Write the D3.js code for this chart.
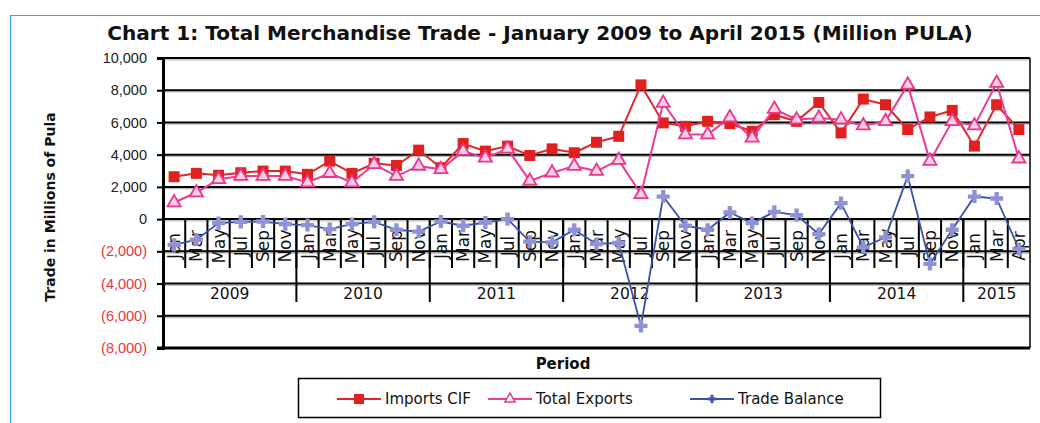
<!DOCTYPE html>
<html>
<head>
<meta charset="utf-8">
<script src="https://cdn.jsdelivr.net/npm/d3@7"></script>
<style>
  body { margin: 0; background: #fff; }
  svg { display: block; font-family: "Century Gothic", "DejaVu Sans", sans-serif; }
</style>
</head>
<body>
<svg width="1040" height="423"></svg>
<script>
// categories: bimonthly periods, Jan 2009 to Apr 2015
const periodMonths = [
  "Jan","Mar","May","Jul","Sep","Nov",
  "Jan","Mar","May","Jul","Sep","Nov",
  "Jan","Mar","May","Jul","Sep","Nov",
  "Jan","Mar","May","Jul","Sep","Nov",
  "Jan","Mar","May","Jul","Sep","Nov",
  "Jan","Mar","May","Jul","Sep","Nov",
  "Jan","Mar","Apr"
];
const yearLabels = ["2009","2010","2011","2012","2013","2014","2015"];
const yearCounts = [6, 6, 6, 6, 6, 6, 3];

const importsCIF = [
  2630, 2840, 2720, 2880, 2980, 2980,
  2780, 3600, 2840, 3460, 3330, 4280,
  3190, 4690, 4220, 4530, 3950, 4360,
  4120, 4770, 5140, 8330, 5970, 5760,
  6070, 5930, 5450, 6480, 6070, 7240,
  5350, 7450, 7100, 5560, 6340, 6750,
  4530, 7100, 5560
];
const totalExports = [
  1030, 1650, 2470, 2670, 2670, 2670,
  2270, 2850, 2270, 3400, 2670, 3300,
  3090, 4220, 3800, 4360, 2370, 2880,
  3290, 2980, 3660, 1540, 7200, 5250,
  5250, 6300, 5040, 6830, 6170, 6280,
  6170, 5800, 6070, 8330, 3600, 6070,
  5800, 8440, 3750
];
const tradeBalance = [
  -1600, -1280, -250, -170, -150, -310,
  -370, -620, -310, -170, -660, -780,
  -150, -410, -210, 0, -1400, -1440,
  -660, -1540, -1480, -6630, 1400, -410,
  -660, 410, -250, 450, 250, -930,
  990, -1750, -1130, 2670, -2780, -660,
  1400, 1280, -1850
];
const yTicks = [-8000, -6000, -4000, -2000, 0, 2000, 4000, 6000, 8000, 10000];

const svg = d3.select("svg");
const plotLeft = 163, plotRight = 1030, plotTop = 58, plotBottom = 348;

// outer chart border (only left and top are visible)
svg.append("path")
  .attr("d", `M10.5,423 V15.5 H1040`)
  .attr("fill", "none")
  .attr("stroke", "#3ba9e0")
  .attr("stroke-width", 1.2);

const x = d3.scaleBand()
  .domain(d3.range(periodMonths.length))
  .range([plotLeft, plotRight])
  .padding(0);

const y = d3.scaleLinear()
  .domain([-8000, 10000])
  .range([plotBottom, plotTop]);

const fmt = d3.format(",");
const tickLabel = (v) => v < 0 ? "(" + fmt(-v) + ")" : fmt(v);

// grid lines with a soft shadow
const grid = svg.append("g");
yTicks.filter((v) => v > -8000).forEach((v) => {
  grid.append("line")
    .attr("x1", plotLeft).attr("x2", plotRight)
    .attr("y1", y(v) + 1.8).attr("y2", y(v) + 1.8)
    .attr("stroke", "#bbb").attr("stroke-width", 1.2);
  grid.append("line")
    .attr("x1", plotLeft).attr("x2", plotRight)
    .attr("y1", y(v)).attr("y2", y(v))
    .attr("stroke", "#000").attr("stroke-width", 2);
});

// right border and bottom axis line
svg.append("line")
  .attr("x1", plotRight).attr("x2", plotRight)
  .attr("y1", plotTop).attr("y2", plotBottom)
  .attr("stroke", "#000").attr("stroke-width", 1.5);
svg.append("line")
  .attr("x1", plotLeft - 6).attr("x2", plotRight)
  .attr("y1", plotBottom).attr("y2", plotBottom)
  .attr("stroke", "#000").attr("stroke-width", 3);

// y axis
const yAxis = svg.append("g")
  .attr("transform", `translate(${plotLeft},0)`)
  .call(d3.axisLeft(y).tickValues(yTicks).tickFormat(tickLabel).tickSize(6).tickPadding(10));
yAxis.select(".domain").attr("stroke-width", 3);
yAxis.selectAll(".tick line").attr("stroke-width", 2);
yAxis.selectAll(".tick text")
  .attr("font-size", 14.5)
  .attr("font-family", "inherit")
  .attr("fill", (d) => d < 0 ? "#e8383d" : "#222");

// category axis: month ticks, year ticks, labels
const y0 = y(0);
const catAxis = svg.append("g");
d3.range(1, periodMonths.length).forEach((i) => {
  catAxis.append("line")
    .attr("x1", x(i)).attr("x2", x(i))
    .attr("y1", y0).attr("y2", 268)
    .attr("stroke", "#000").attr("stroke-width", 2);
});
let start = 0;
yearCounts.forEach((n, k) => {
  const xs = x(start), xe = start + n < periodMonths.length ? x(start + n) : plotRight;
  if (k > 0) {
    catAxis.append("line")
      .attr("x1", xs).attr("x2", xs)
      .attr("y1", y0).attr("y2", 302)
      .attr("stroke", "#000").attr("stroke-width", 2);
  }
  catAxis.append("text")
    .attr("x", (xs + xe) / 2)
    .attr("y", 299)
    .attr("text-anchor", "middle")
    .attr("font-size", 15.5)
    .attr("fill", "#111")
    .text(yearLabels[k]);
  start += n;
});
catAxis.selectAll(".month")
  .data(periodMonths)
  .enter()
  .append("text")
  .attr("class", "month")
  .attr("transform", (d, i) => `translate(${x(i) + x.bandwidth() / 2},246) rotate(-90)`)
  .attr("text-anchor", "middle")
  .attr("dominant-baseline", "central")
  .attr("font-size", 17)
  .attr("fill", "#111")
  .text((d) => d);

// series
const cx = (d, i) => x(i) + x.bandwidth() / 2;
const line = d3.line().x(cx).y((d) => y(d));

const imp = svg.append("g");
imp.append("path")
  .datum(importsCIF)
  .attr("d", line)
  .attr("fill", "none")
  .attr("stroke", "#e3262b")
  .attr("stroke-width", 2);
imp.selectAll("rect")
  .data(importsCIF)
  .enter()
  .append("rect")
  .attr("x", (d, i) => cx(d, i) - 5.5)
  .attr("y", (d) => y(d) - 5.5)
  .attr("width", 11)
  .attr("height", 11)
  .attr("fill", "#e0211f");

const triangle = d3.symbol().type(d3.symbolTriangle).size(75);
const exp = svg.append("g");
exp.append("path")
  .datum(totalExports)
  .attr("d", line)
  .attr("fill", "none")
  .attr("stroke", "#ec3a97")
  .attr("stroke-width", 2);
exp.selectAll(".tri")
  .data(totalExports)
  .enter()
  .append("path")
  .attr("class", "tri")
  .attr("transform", (d, i) => `translate(${cx(d, i)},${y(d)})`)
  .attr("d", triangle)
  .attr("fill", "#f9cfe4")
  .attr("stroke", "#e8378f")
  .attr("stroke-width", 1.8);

const plus = d3.symbol().type(d3.symbolCross).size(95);
const bal = svg.append("g");
bal.append("path")
  .datum(tradeBalance)
  .attr("d", line)
  .attr("fill", "none")
  .attr("stroke", "#3a51a8")
  .attr("stroke-width", 1.8);
bal.selectAll(".plus")
  .data(tradeBalance)
  .enter()
  .append("path")
  .attr("class", "plus")
  .attr("transform", (d, i) => `translate(${cx(d, i)},${y(d)})`)
  .attr("d", plus)
  .attr("fill", "#8f93d6");

// titles
const title = svg.append("text")
  .attr("x", 540)
  .attr("y", 40)
  .attr("text-anchor", "middle")
  .attr("font-weight", "bold")
  .attr("font-size", 20)
  .attr("fill", "#111")
  .text("Chart 1: Total Merchandise Trade - January 2009 to April 2015 (Million PULA)");
const tw = title.node().getComputedTextLength();
title.attr("font-size", 20 * 866 / tw);

svg.append("text")
  .attr("transform", "translate(50,207) rotate(-90)")
  .attr("text-anchor", "middle")
  .attr("dominant-baseline", "central")
  .attr("font-weight", "bold")
  .attr("font-size", 14)
  .attr("fill", "#111")
  .text("Trade in Millions of Pula");

svg.append("text")
  .attr("x", 563)
  .attr("y", 369)
  .attr("text-anchor", "middle")
  .attr("font-weight", "bold")
  .attr("font-size", 15)
  .attr("fill", "#111")
  .text("Period");

// legend
const legend = svg.append("g");
legend.append("rect")
  .attr("x", 298.5).attr("y", 378.5)
  .attr("width", 582).attr("height", 39)
  .attr("fill", "#fff")
  .attr("stroke", "#000")
  .attr("stroke-width", 1.5);
const legendItems = [
  { label: "Imports CIF", x: 337, color: "#e3262b" },
  { label: "Total Exports", x: 488, color: "#ec3a97" },
  { label: "Trade Balance", x: 690, color: "#3a51a8" }
];
legendItems.forEach((it, k) => {
  const ly = 399;
  legend.append("line")
    .attr("x1", it.x).attr("x2", it.x + 44)
    .attr("y1", ly).attr("y2", ly)
    .attr("stroke", it.color).attr("stroke-width", 2);
  const m = it.x + 22;
  if (k === 0) {
    legend.append("rect").attr("x", m - 5).attr("y", ly - 5).attr("width", 10).attr("height", 10).attr("fill", "#e0211f");
  } else if (k === 1) {
    legend.append("path").attr("transform", `translate(${m},${ly})`)
      .attr("d", d3.symbol().type(d3.symbolTriangle).size(45))
      .attr("fill", "#fff").attr("stroke", "#e8378f").attr("stroke-width", 1.5);
  } else {
    legend.append("path").attr("transform", `translate(${m},${ly})`)
      .attr("d", d3.symbol().type(d3.symbolCross).size(40))
      .attr("fill", "#3a51a8");
  }
  legend.append("text")
    .attr("x", it.x + 48)
    .attr("y", ly)
    .attr("dominant-baseline", "central")
    .attr("font-size", 15)
    .attr("fill", "#111")
    .text(it.label);
});
</script>
</body>
</html>
